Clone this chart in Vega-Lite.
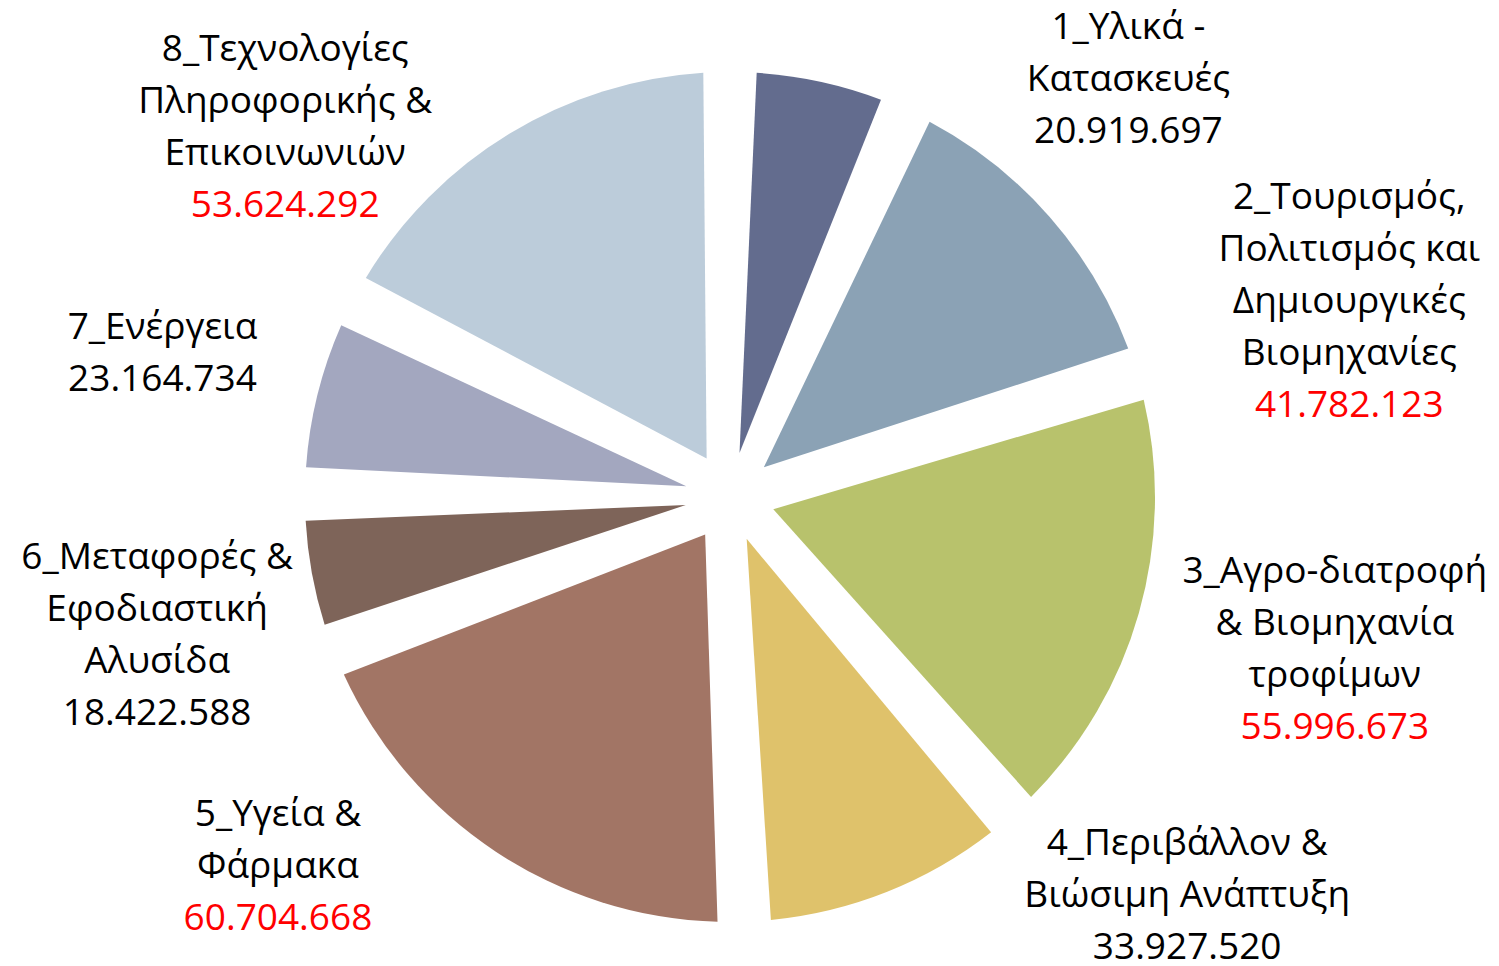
{
  "$schema": "https://vega.github.io/schema/vega-lite/v6.json",
  "width": 1460,
  "height": 938,
  "autosize": {"type": "none"},
  "padding": {"left": 0, "top": 28, "right": 39, "bottom": 0},
  "background": "white",
  "config": {
    "view": {"stroke": null},
    "locale": {"number": {"decimal": ",", "thousands": ".", "grouping": [3], "currency": ["", " €"]}}
  },
  "data": {
    "values": [
      {"id": 1, "name": "1_Υλικά -\nΚατασκευές", "value": 20919697},
      {"id": 2, "name": "2_Τουρισμός,\nΠολιτισμός και\nΔημιουργικές\nΒιομηχανίες", "value": 41782123},
      {"id": 3, "name": "3_Αγρο-διατροφή\n& Βιομηχανία\nτροφίμων", "value": 55996673},
      {"id": 4, "name": "4_Περιβάλλον &\nΒιώσιμη Ανάπτυξη", "value": 33927520},
      {"id": 5, "name": "5_Υγεία &\nΦάρμακα", "value": 60704668},
      {"id": 6, "name": "6_Μεταφορές &\nΕφοδιαστική\nΑλυσίδα", "value": 18422588},
      {"id": 7, "name": "7_Ενέργεια", "value": 23164734},
      {"id": 8, "name": "8_Τεχνολογίες\nΠληροφορικής &\nΕπικοινωνιών", "value": 53624292}
    ]
  },
  "encoding": {
    "theta": {"field": "value", "type": "quantitative", "stack": true},
    "order": {"field": "id", "type": "quantitative"}
  },
  "layer": [
    {
      "mark": {"type": "arc", "outerRadius": 425, "innerRadius": 45, "padAngle": 0.125},
      "encoding": {
        "color": {
          "field": "id",
          "type": "nominal",
          "scale": {"domain": [1, 2, 3, 4, 5, 6, 7, 8], "range": ["#636C8E", "#8BA2B5", "#B8C26C", "#DFC26B", "#A27565", "#7E6459", "#A3A7BF", "#BCCCDA"]},
          "legend": null
        }
      }
    },
    {
      "mark": {
        "type": "text",
        "radius": 560,
        "font": "Open Sans",
        "fontSize": 37,
        "lineHeight": 52,
        "lineBreak": "\n",
        "align": "center",
        "baseline": "bottom",
        "color": "black",
        "dx": {"expr": "[280, 198, 66, 250, -143, -22, -24, -154][datum.id - 1]"},
        "dy": {"expr": "[97, 89, -59, -154, -130, -21, -15, 51][datum.id - 1]"}
      },
      "encoding": {"text": {"field": "name", "type": "nominal"}}
    },
    {
      "mark": {
        "type": "text",
        "radius": 560,
        "font": "Open Sans",
        "fontSize": 37,
        "align": "center",
        "baseline": "top",
        "dx": {"expr": "[280, 198, 66, 250, -143, -22, -24, -154][datum.id - 1]"},
        "dy": {"expr": "[164, 260, 60, -87, -63, 98, 0, 170][datum.id - 1]"}
      },
      "encoding": {
        "text": {"field": "value", "type": "quantitative", "format": ","},
        "color": {"condition": {"test": "datum.value > 40000000", "value": "#FF0000"}, "value": "black"}
      }
    }
  ]
}
